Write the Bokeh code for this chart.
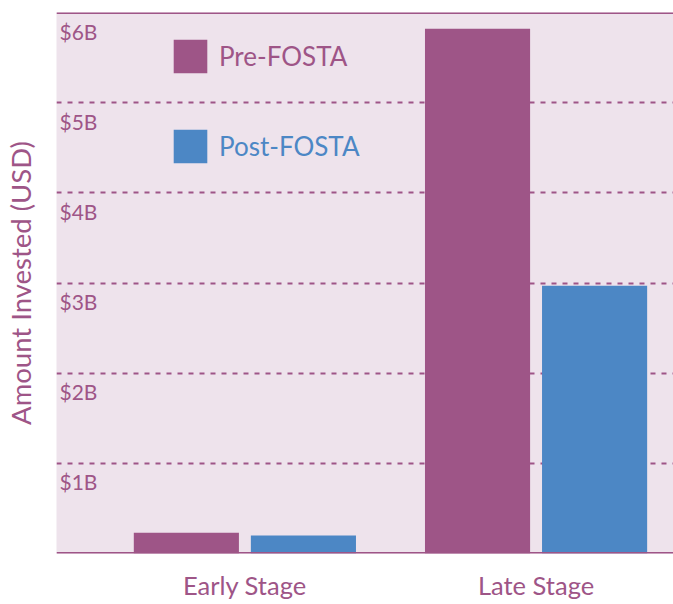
from bokeh.plotting import figure
from bokeh.models import (Range1d, FixedTicker, ColumnDataSource, LabelSet, Span,
                          Legend, LegendItem)
from bokeh.core.properties import value
from bokeh.transform import dodge
from bokeh.embed import file_html
from bokeh.resources import INLINE

# ---- data (billions of USD) ----
stages = ["Early Stage", "Late Stage"]
series = ["Pre-FOSTA", "Post-FOSTA"]
pre_fosta = [0.23, 5.82]
post_fosta = [0.20, 2.97]
y_ticks = [1, 2, 3, 4, 5, 6]
y_tick_labels = ["$1B", "$2B", "$3B", "$4B", "$5B", "$6B"]

PURPLE = "#9E5587"
BLUE = "#4C87C5"
BG = "#EEE3EC"
FONT = "Lato"

pos = [i + 0.5 for i in range(len(stages))]
src = ColumnDataSource(dict(x=pos, stage=stages, pre=pre_fosta, post=post_fosta))

p = figure(width=673, height=604,
           x_range=Range1d(-0.147, 1.972), y_range=Range1d(0, y_ticks[-1]),
           output_backend="svg", toolbar_location=None,
           min_border_left=51, min_border_top=12, min_border_right=0,
           min_border_bottom=51)
p.background_fill_color = BG
p.border_fill_color = "white"
p.outline_line_color = None

bw = 0.361
off = 0.201
r_pre = p.vbar(x=dodge("x", -off), top="pre", width=bw, source=src,
               fill_color=PURPLE, line_color=None)
r_post = p.vbar(x=dodge("x", off), top="post", width=bw, source=src,
                fill_color=BLUE, line_color=None)

# grid
p.xgrid.visible = False
p.ygrid.ticker = FixedTicker(ticks=y_ticks[:-1])
p.ygrid.grid_line_color = PURPLE
p.ygrid.grid_line_dash = "5 6"
p.ygrid.grid_line_width = 2

p.add_layout(Span(location=y_ticks[-1], dimension="width", line_color=PURPLE, line_width=3))
p.add_layout(Span(location=0, dimension="width", line_color=PURPLE, line_width=3))

# x axis
p.xaxis.ticker = FixedTicker(ticks=pos)
p.xaxis.major_label_overrides = {x: s for x, s in zip(pos, stages)}
p.xaxis.axis_line_color = None
p.xaxis.major_tick_line_color = None
p.xaxis.minor_tick_line_color = None
p.xaxis.major_tick_out = 0
p.xaxis.major_tick_in = 0
p.xaxis.major_label_standoff = 16
p.xaxis.major_label_text_line_height = 0.85
p.xaxis.major_label_text_font = FONT
p.xaxis.major_label_text_font_size = "25.5px"
p.xaxis.major_label_text_color = PURPLE

# y axis (title only)
p.yaxis.ticker = FixedTicker(ticks=[])
p.yaxis.axis_line_color = None
p.yaxis.major_tick_line_color = None
p.yaxis.minor_tick_line_color = None
p.yaxis.major_tick_out = 0
p.yaxis.axis_label = "Amount Invested (USD)"
p.yaxis.axis_label_text_font = FONT
p.yaxis.axis_label_text_font_size = "27.5px"
p.yaxis.axis_label_text_font_style = "normal"
p.yaxis.axis_label_text_color = PURPLE
p.yaxis.axis_label_standoff = 20

# tick labels inside the plot
lab_src = ColumnDataSource(dict(y=y_ticks, text=y_tick_labels))
p.add_layout(LabelSet(x=3, x_units="screen", y="y", text="text", source=lab_src,
                      text_baseline="top", y_offset=-6,
                      text_font=value(FONT), text_font_size="21px", text_color=PURPLE))

# legends
for r, name, col, yloc in [(r_pre, series[0], PURPLE, 476), (r_post, series[1], BLUE, 386)]:
    leg = Legend(items=[LegendItem(label=name, renderers=[r])], location=(113, yloc),
                 glyph_width=42, glyph_height=42, label_standoff=8,
                 label_text_font=FONT, label_text_font_size="26px", label_text_color=col,
                 background_fill_alpha=0, border_line_alpha=0, padding=0, margin=0)
    p.add_layout(leg)

open("out.html", "w").write(file_html(p, INLINE))
